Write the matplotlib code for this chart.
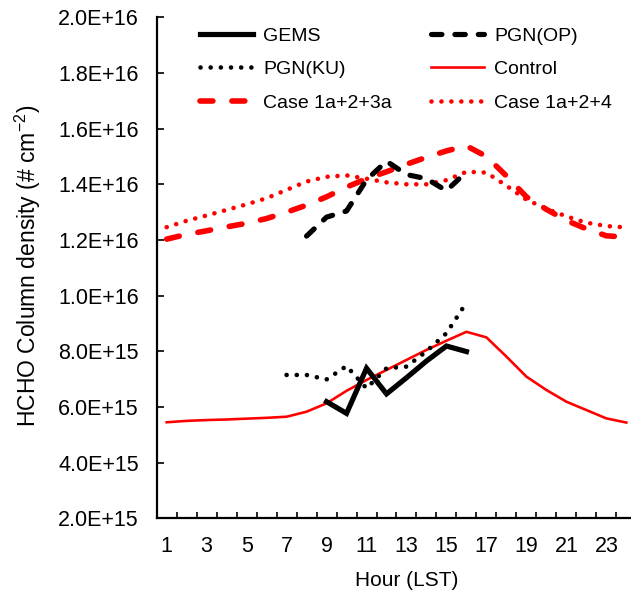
import numpy as np
import matplotlib
matplotlib.use("Agg")
import matplotlib.pyplot as plt
from matplotlib.ticker import FixedLocator, FuncFormatter

plt.rcParams["font.family"] = ["Liberation Sans", "DejaVu Sans"]
plt.rcParams["mathtext.fontset"] = "custom"
plt.rcParams["mathtext.rm"] = "Liberation Sans"

# Diurnal HCHO column density, units of 1e15 molecules cm^-2
hours = np.arange(1, 25)
control = [5.45, 5.50, 5.53, 5.55, 5.58, 5.61, 5.65, 5.83, 6.13, 6.58, 6.97, 7.33,
           7.69, 8.05, 8.38, 8.70, 8.50, 7.81, 7.09, 6.61, 6.19, 5.89, 5.59, 5.44]
case_1a_2_3a = [12.03, 12.20, 12.33, 12.47, 12.60, 12.77, 13.00, 13.25, 13.55, 13.90, 14.20, 14.45,
                14.72, 14.97, 15.20, 15.38, 15.00, 14.30, 13.55, 13.10, 12.70, 12.40, 12.15, 12.10]
case_1a_2_4 = [12.46, 12.69, 12.88, 13.08, 13.28, 13.50, 13.80, 14.10, 14.27, 14.32, 14.20, 14.07,
               14.00, 14.00, 14.15, 14.45, 14.42, 13.95, 13.45, 13.12, 12.85, 12.62, 12.50, 12.45]

gems_hours = np.arange(9, 17)
gems = [6.19, 5.77, 7.39, 6.47, 7.05, 7.65, 8.19, 7.99]

pgn_op_hours = np.arange(8, 17)
pgn_op = [12.14, 12.82, 13.04, 14.16, 14.83, 14.35, 14.20, 13.77, 14.45]

pgn_ku_hours = np.arange(7, 17)
pgn_ku = [7.15, 7.15, 6.99, 7.47, 6.67, 7.39, 7.45, 8.00, 8.65, 9.75]

scale = 1e15
y_ticks = np.arange(2, 20.1, 2)
x_labels = np.arange(1, 24, 2)

W, H = 631, 592
fig = plt.figure(figsize=(W / 100, H / 100), dpi=100)
left, right, top, bottom = 156.7, 636.3, 17.3, 518.3
ax = fig.add_axes([left / W, 1 - bottom / H, (right - left) / W, (bottom - top) / H])

def px(v):
    return v * 0.72

lw_gems = px(5.2)
lw_op = px(5.2)
lw_ku = px(4.6)
lw_ctrl = px(2.6)
lw_3a = px(5.6)
lw_4 = px(4.6)

h_gems, = ax.plot(gems_hours, np.array(gems) * scale, color="black", lw=lw_gems,
                  solid_joinstyle="miter", label="GEMS", zorder=5)
h_op, = ax.plot(pgn_op_hours, np.array(pgn_op) * scale, color="black", lw=lw_op,
                linestyle=(0, (2.0, 2.5)), dash_capstyle="round", label="PGN(OP)", zorder=5)
h_ku, = ax.plot(pgn_ku_hours, np.array(pgn_ku) * scale, color="black", lw=lw_ku,
                linestyle=(0, (0.01, 2.2)), dash_capstyle="round", label="PGN(KU)", zorder=5)
h_ctrl, = ax.plot(hours, np.array(control) * scale, color="#ff0000", lw=lw_ctrl,
                  label="Control", zorder=4)
h_3a, = ax.plot(hours, np.array(case_1a_2_3a) * scale, color="#ff0000", lw=lw_3a,
                linestyle=(0, (2.3, 3.4)), dash_capstyle="round", label="Case 1a+2+3a", zorder=3)
h_4, = ax.plot(hours, np.array(case_1a_2_4) * scale, color="#ff0000", lw=lw_4,
               linestyle=(0, (0.01, 2.15)), dash_capstyle="round", label="Case 1a+2+4", zorder=3)

ax.set_xlim(0.5, 24.5)
ax.set_ylim(2e15, 2e16)

for side in ("top", "right"):
    ax.spines[side].set_visible(False)
for side in ("left", "bottom"):
    ax.spines[side].set_linewidth(1.6)
    ax.spines[side].set_color("black")

# Category axis: labels on every other hour, tick marks on category boundaries
ax.xaxis.set_major_locator(FixedLocator(x_labels))
ax.xaxis.set_minor_locator(FixedLocator(np.arange(0.5, 25, 1.0)))
ax.tick_params(axis="x", which="major", length=0, pad=13, labelsize=15.5)
ax.tick_params(axis="x", which="minor", direction="in", length=4, width=1.2)

ax.yaxis.set_major_locator(FixedLocator(y_ticks * scale))
ax.yaxis.set_major_formatter(FuncFormatter(lambda v, pos: f"{v:.1E}"))
ax.tick_params(axis="y", which="major", direction="in", length=5, width=1.2,
               pad=13, labelsize=15.5)

ax.set_xlabel("Hour (LST)", fontsize=15)
ax.xaxis.set_label_coords((406.7 - left) / (right - left), -(580 - bottom) / (bottom - top))
ax.xaxis.label.set_va("center")
ax.set_ylabel(r"HCHO Column density (# cm$^{\mathregular{-2}}$)", fontsize=16.5)
ax.yaxis.set_label_coords((28 - left) / (right - left), (bottom - 266) / (bottom - top))
ax.yaxis.label.set_va("center")

handles = [h_gems, h_ku, h_3a, h_op, h_ctrl, h_4]
fig.legend(handles=handles, labels=[h.get_label() for h in handles], ncol=2,
           loc="upper left", bbox_to_anchor=(200 / W, 1 - 27 / H),
           frameon=False, fontsize=14, handlelength=2.75, handletextpad=0.5,
           columnspacing=2.0, labelspacing=0.82, borderpad=0, borderaxespad=0)

fig.savefig("out.png", dpi=100)
